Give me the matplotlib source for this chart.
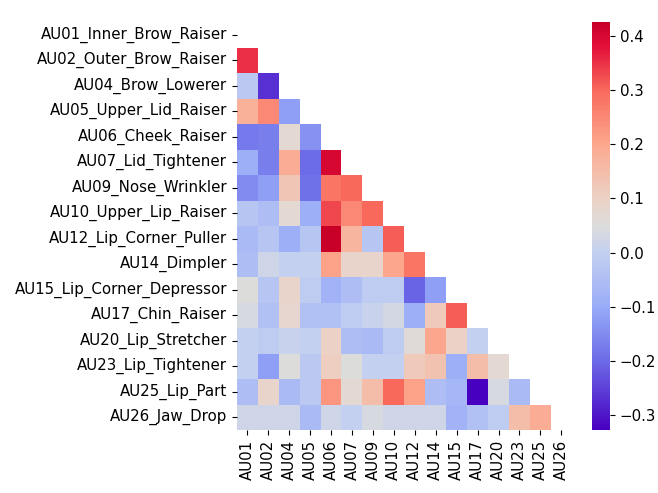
import numpy as np
import matplotlib
matplotlib.use("Agg")
import matplotlib.pyplot as plt
import seaborn as sns
from matplotlib.colors import LinearSegmentedColormap

labels = ["AU01_Inner_Brow_Raiser", "AU02_Outer_Brow_Raiser", "AU04_Brow_Lowerer",
          "AU05_Upper_Lid_Raiser", "AU06_Cheek_Raiser", "AU07_Lid_Tightener",
          "AU09_Nose_Wrinkler", "AU10_Upper_Lip_Raiser", "AU12_Lip_Corner_Puller",
          "AU14_Dimpler", "AU15_Lip_Corner_Depressor", "AU17_Chin_Raiser",
          "AU20_Lip_Stretcher", "AU23_Lip_Tightener", "AU25_Lip_Part", "AU26_Jaw_Drop"]
xlabels = ["AU01", "AU02", "AU04", "AU05", "AU06", "AU07", "AU09", "AU10",
           "AU12", "AU14", "AU15", "AU17", "AU20", "AU23", "AU25", "AU26"]

# lower-triangle correlations, row i holds columns 0..i-1
row_au02 = [0.35]
row_au04 = [-0.02, -0.27]
row_au05 = [0.18, 0.25, -0.12]
row_au06 = [-0.18, -0.17, 0.07, -0.14]
row_au07 = [-0.09, -0.17, 0.19, -0.20, 0.40]
row_au09 = [-0.15, -0.12, 0.13, -0.19, 0.28, 0.30]
row_au10 = [-0.03, -0.05, 0.07, -0.09, 0.33, 0.25, 0.30]
row_au12 = [-0.06, -0.03, -0.09, -0.03, 0.426, 0.17, -0.03, 0.31]
row_au14 = [-0.05, 0.02, 0.00, 0.00, 0.21, 0.09, 0.09, 0.20, 0.28]
row_au15 = [0.05, -0.03, 0.09, -0.01, -0.08, -0.05, -0.01, -0.01, -0.21, -0.12]
row_au17 = [0.04, -0.04, 0.08, -0.04, -0.04, -0.01, 0.01, 0.03, -0.09, 0.12, 0.31]
row_au20 = [0.00, -0.01, 0.01, 0.00, 0.10, -0.05, -0.06, -0.01, 0.06, 0.20, 0.10, 0.00]
row_au23 = [0.00, -0.12, 0.05, -0.02, 0.11, 0.05, 0.00, 0.00, 0.12, 0.14, -0.09, 0.15, 0.07]
row_au25 = [-0.05, 0.09, -0.06, -0.02, 0.23, 0.07, 0.15, 0.30, 0.21, -0.05, -0.07, -0.328, 0.04, -0.06]
row_au26 = [0.02, 0.02, 0.02, -0.06, 0.02, 0.00, 0.04, 0.02, 0.02, 0.02, -0.08, -0.04, -0.01, 0.15, 0.19]

rows = [[], row_au02, row_au04, row_au05, row_au06, row_au07, row_au09, row_au10,
        row_au12, row_au14, row_au15, row_au17, row_au20, row_au23, row_au25, row_au26]

n = len(labels)
corr = np.eye(n)
for i, r in enumerate(rows):
    for j, v in enumerate(r):
        corr[i, j] = v
        corr[j, i] = v

mask = np.triu(np.ones_like(corr, dtype=bool))

cmap = LinearSegmentedColormap.from_list("custom", [
    (0.0, "#4800c0"),
    (0.17, "#6c6ce8"),
    (0.302, "#98acf8"),
    (0.435, "#c4d0f0"),
    (0.50, "#dcdcdc"),
    (0.568, "#ecd2c6"),
    (0.70, "#fca88e"),
    (0.833, "#f86a5c"),
    (0.939, "#e4103a"),
    (1.0, "#c80028"),
])

W, H = 658, 493
fig = plt.figure(figsize=(W / 100, H / 100), dpi=100)
ax = fig.add_axes([236.8 / W, (H - 430) / H, (571.8 - 236.8) / W, (430 - 22) / H])
cax = fig.add_axes([592 / W, (H - 430) / H, 18 / W, (430 - 22) / H])

fs = 10.8
sns.heatmap(corr, mask=mask, cmap=cmap, ax=ax, cbar_ax=cax,
            xticklabels=xlabels, yticklabels=labels)
ax.set_yticklabels(labels, rotation=0, fontsize=fs)
ax.set_xticklabels(xlabels, rotation=90, fontsize=fs)
cax.tick_params(labelsize=fs)

fig.savefig("out.png", dpi=100)
